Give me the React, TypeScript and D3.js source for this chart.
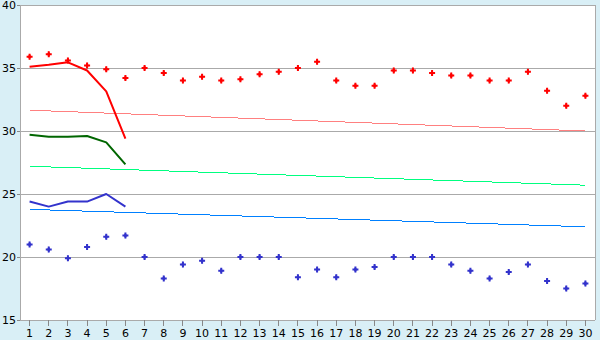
import React from "react";
import * as d3 from "d3";

const categories = Array.from({ length: 30 }, (_, i) => String(i + 1));
const yTicks = [15, 20, 25, 30, 35, 40];

const redPoints = [35.9, 36.1, 35.6, 35.2, 34.9, 34.2, 35.0, 34.6, 34.0, 34.3, 34.0, 34.1, 34.5, 34.7, 35.0, 35.5, 34.0, 33.6, 33.6, 34.8, 34.8, 34.6, 34.4, 34.4, 34.0, 34.0, 34.7, 33.2, 32.0, 32.8];
const bluePoints = [21.0, 20.6, 19.9, 20.8, 21.6, 21.7, 20.0, 18.3, 19.4, 19.7, 18.9, 20.0, 20.0, 20.0, 18.4, 19.0, 18.4, 19.0, 19.2, 20.0, 20.0, 20.0, 19.4, 18.9, 18.3, 18.8, 19.4, 18.1, 17.5, 17.9];

const redLine = [35.1, 35.25, 35.45, 34.8, 33.15, 29.4];
const greenLine = [29.7, 29.55, 29.55, 29.6, 29.1, 27.35];
const blueLine = [24.4, 24.0, 24.4, 24.4, 25.0, 24.0];

// trend lines: value at day 1 and day 30
const trendDays = ["1", "30"];
const pinkTrend = [31.65, 30.0];
const lightGreenTrend = [27.2, 25.7];
const lightBlueTrend = [23.78, 22.4];

const W = 600, H = 340;
const left = 20, right = 595, top = 5, bottom = 320;

export default function App() {
  const x = d3.scaleBand().domain(categories).range([left, right]);
  const y = d3.scaleLinear().domain([15, 40]).range([bottom, top]);
  const cx = (c: string) => (x(c) as number) + x.bandwidth() / 2;

  const line = d3.line<[string, number]>().x((d) => cx(d[0])).y((d) => y(d[1]));
  const cross = d3.symbol().type(d3.symbolCross).size(20)();
  const diamond = d3.symbol().type(d3.symbolDiamond).size(10)();

  const thick = [
    { data: redLine, color: "#ff0000" },
    { data: greenLine, color: "#006600" },
    { data: blueLine, color: "#3333cc" },
  ];
  const trends = [
    { data: pinkTrend, color: "#ff8080" },
    { data: lightGreenTrend, color: "#00ff80" },
    { data: lightBlueTrend, color: "#0080ff" },
  ];

  const marker = (key: string, cxv: number, cyv: number, color: string) => (
    <g key={key} transform={`translate(${cxv},${cyv})`} fill={color}>
      <path d={cross || ""} />
      <path d={diamond || ""} />
    </g>
  );

  return (
    <svg width={W} height={H} style={{ position: "absolute", left: 0, top: 0 }} fontFamily="DejaVu Sans" fontSize={11}>
      <rect x={0} y={0} width={W} height={H} fill="#d9eff6" />
      <rect x={left} y={top} width={right - left} height={bottom - top} fill="#ffffff" />
      {yTicks.map((t) => (
        <g key={t}>
          <line x1={left} x2={right} y1={y(t)} y2={y(t)} stroke="#aaaaaa" strokeWidth={1} shapeRendering="crispEdges" />
          <line x1={left - 3} x2={left} y1={y(t)} y2={y(t)} stroke="#888888" shapeRendering="crispEdges" />
          <text x={left - 4} y={y(t)} dy="0.35em" textAnchor="end" fill="#000">{t}</text>
        </g>
      ))}
      <line x1={left} x2={left} y1={top} y2={bottom} stroke="#aaaaaa" shapeRendering="crispEdges" />
      <line x1={right} x2={right} y1={top} y2={bottom} stroke="#aaaaaa" shapeRendering="crispEdges" />
      {categories.map((c) => (
        <g key={c}>
          <line x1={cx(c)} x2={cx(c)} y1={bottom} y2={bottom + 6} stroke="#888888" shapeRendering="crispEdges" />
          <text x={cx(c)} y={bottom + 17} textAnchor="middle" fill="#000">{c}</text>
        </g>
      ))}
      {trends.map((t, i) => (
        <path key={"t" + i} d={line(trendDays.map((d, j) => [d, t.data[j]]) as [string, number][]) || ""} fill="none" stroke={t.color} strokeWidth={1} shapeRendering="crispEdges" />
      ))}
      {thick.map((t, i) => (
        <path key={"l" + i} d={line(t.data.map((v, j) => [categories[j], v]) as [string, number][]) || ""} fill="none" stroke={t.color} strokeWidth={2} strokeLinejoin="round" />
      ))}
      {redPoints.map((v, i) => marker("r" + i, cx(categories[i]), y(v), "#ff0000"))}
      {bluePoints.map((v, i) => marker("b" + i, cx(categories[i]), y(v), "#3333cc"))}
    </svg>
  );
}
